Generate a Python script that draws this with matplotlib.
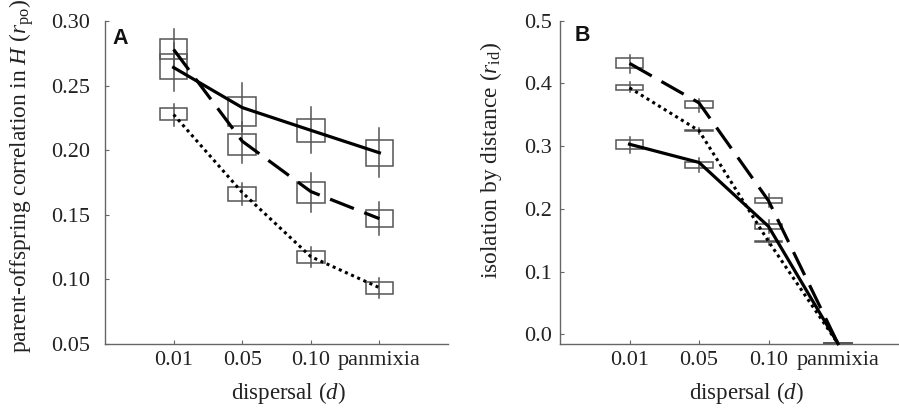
import numpy as np
import matplotlib
matplotlib.use('Agg')
import matplotlib.pyplot as plt
from matplotlib.patches import Rectangle

plt.rcParams['font.family'] = ['Liberation Serif', 'DejaVu Serif']
plt.rcParams['mathtext.fontset'] = 'custom'
plt.rcParams['mathtext.rm'] = 'Liberation Serif'
plt.rcParams['mathtext.it'] = 'Liberation Serif:italic'

categories = ['0.01', '0.05', '0.10', 'panmixia']

# Panel A: parent-offspring correlation
a_solid_mean = [0.264, 0.233, 0.2154, 0.198]
a_solid_box_lo = [0.2548, 0.2191, 0.2061, 0.1875]
a_solid_box_hi = [0.2747, 0.2410, 0.2245, 0.2077]
a_solid_wh_lo = [0.2457, 0.2150, 0.1979, 0.1789]
a_solid_wh_hi = [0.2830, 0.2522, 0.2333, 0.2173]

a_dash_mean = [0.278, 0.207, 0.168, 0.147]
a_dash_box_lo = [0.2708, 0.1966, 0.1591, 0.1409]
a_dash_box_hi = [0.2858, 0.2126, 0.1753, 0.1539]
a_dash_wh_lo = [0.2650, 0.1900, 0.1521, 0.1345]
a_dash_wh_hi = [0.2936, 0.2220, 0.1824, 0.1596]

a_dot_mean = [0.2276, 0.1673, 0.1176, 0.0936]
a_dot_box_lo = [0.2237, 0.1609, 0.1130, 0.0887]
a_dot_box_hi = [0.2328, 0.1712, 0.1223, 0.0978]
a_dot_wh_lo = [0.2185, 0.1578, 0.1099, 0.0854]
a_dot_wh_hi = [0.2354, 0.1746, 0.1254, 0.1013]

# Panel B: isolation by distance
b_solid_mean = [0.303, 0.274, 0.172, -0.015]
b_solid_box_lo = [0.2950, 0.2647, 0.1674, -0.0155]
b_solid_box_hi = [0.3098, 0.2752, 0.1754, -0.0145]
b_solid_wh_lo = [0.2886, 0.2593, 0.1620, -0.0155]
b_solid_wh_hi = [0.3150, 0.2806, 0.1820, -0.0145]

b_dash_mean = [0.432, 0.369, 0.213, -0.015]
b_dash_box_lo = [0.4241, 0.3613, 0.2089, -0.0155]
b_dash_box_hi = [0.4400, 0.3720, 0.2168, -0.0145]
b_dash_wh_lo = [0.4161, 0.3549, 0.2030, -0.0155]
b_dash_wh_hi = [0.4453, 0.3747, 0.2230, -0.0145]

b_dot_mean = [0.393, 0.3246, 0.148, -0.015]
b_dot_box_lo = [0.3895, 0.3235, 0.1467, -0.0155]
b_dot_box_hi = [0.3975, 0.3255, 0.1487, -0.0145]
b_dot_wh_lo = [0.3868, 0.3193, 0.1420, -0.0155]
b_dot_wh_hi = [0.4018, 0.3285, 0.1540, -0.0145]

a_yticks = [0.05, 0.10, 0.15, 0.20, 0.25, 0.30]
a_yticklabels = ['0.05', '0.10', '0.15', '0.20', '0.25', '0.30']
b_yticks = [0.0, 0.1, 0.2, 0.3, 0.4, 0.5]
b_yticklabels = ['0.0', '0.1', '0.2', '0.3', '0.4', '0.5']

W, H = 899, 415
fig = plt.figure(figsize=(W / 100, H / 100), dpi=100)
axA = fig.add_axes([105 / W, 71 / H, 343 / W, 323 / H])
axB = fig.add_axes([560 / W, 71 / H, 347.5 / W, 323.3 / H])

xpos = np.arange(1, len(categories) + 1)
box_w = 0.4
box_color = '#555555'
styles = {
    'solid': dict(linestyle='-', lw=2.3),
    'dash': dict(linestyle=(0, (8, 3.5)), lw=2.3),
    'dot': dict(linestyle=(0, (1, 1.2)), lw=2.2),
}


def draw_series(ax, mean, blo, bhi, wlo, whi, style):
    for xi, bl, bh, wl, wh in zip(xpos, blo, bhi, wlo, whi):
        ax.add_patch(Rectangle((xi - box_w / 2, bl), box_w, bh - bl, fill=False,
                               ec=box_color, lw=1.1, zorder=2, clip_on=False))
        ax.plot([xi, xi], [wl, wh], color=box_color, lw=1.1, zorder=2, clip_on=False)
    ax.plot(xpos, mean, color='black', zorder=3, clip_on=False, **styles[style])


draw_series(axA, a_solid_mean, a_solid_box_lo, a_solid_box_hi, a_solid_wh_lo, a_solid_wh_hi, 'solid')
draw_series(axA, a_dash_mean, a_dash_box_lo, a_dash_box_hi, a_dash_wh_lo, a_dash_wh_hi, 'dash')
draw_series(axA, a_dot_mean, a_dot_box_lo, a_dot_box_hi, a_dot_wh_lo, a_dot_wh_hi, 'dot')

draw_series(axB, b_solid_mean, b_solid_box_lo, b_solid_box_hi, b_solid_wh_lo, b_solid_wh_hi, 'solid')
draw_series(axB, b_dash_mean, b_dash_box_lo, b_dash_box_hi, b_dash_wh_lo, b_dash_wh_hi, 'dash')
draw_series(axB, b_dot_mean, b_dot_box_lo, b_dot_box_hi, b_dot_wh_lo, b_dot_wh_hi, 'dot')

axA.set_xlim(0, 5)
axA.set_ylim(0.05, 0.30)
axB.set_xlim(0, 5)
axB.set_ylim(-0.0155, 0.5)

for ax, yt, ytl, ypad in [(axA, a_yticks, a_yticklabels, 11), (axB, b_yticks, b_yticklabels, 6)]:
    ax.set_xticks(xpos)
    ax.set_xticklabels(categories)
    ax.set_yticks(yt)
    ax.set_yticklabels(ytl)
    for s in ['top', 'right']:
        ax.spines[s].set_visible(False)
    for s in ['left', 'bottom']:
        ax.spines[s].set_color('#666666')
        ax.spines[s].set_linewidth(1.0)
    ax.tick_params(direction='in', length=3, width=0.8, color='#666666',
                   labelsize=16, labelcolor='#222222')
    ax.tick_params(axis='y', pad=ypad)
    ax.tick_params(axis='x', pad=5)
    ax.set_xlabel('dispersal ($d$)', fontsize=16.5, color='#222222', va='top')
    ax.xaxis.set_label_coords(0.536, -0.112)

axA.set_ylabel('parent-offspring correlation in $H$ ($r_{\\mathrm{po}}$)', fontsize=16.8,
               color='#222222', va='center')
axA.yaxis.set_label_coords((22 - 105) / 343, (344 - 176) / 323)
axB.set_ylabel('isolation by distance ($r_{\\mathrm{id}}$)', fontsize=16.8,
               color='#222222', va='center')
axB.yaxis.set_label_coords((491 - 560) / 347.5, (344 - 160) / 323.3)

axA.text(0.023, 0.978, 'A', transform=axA.transAxes, fontfamily='Liberation Sans',
         fontweight='bold', fontsize=15.5, va='top', ha='left', color='#111111')
axB.text(0.043, 0.987, 'B', transform=axB.transAxes, fontfamily='Liberation Sans',
         fontweight='bold', fontsize=15.5, va='top', ha='left', color='#111111')

fig.savefig('out.png', dpi=100)
